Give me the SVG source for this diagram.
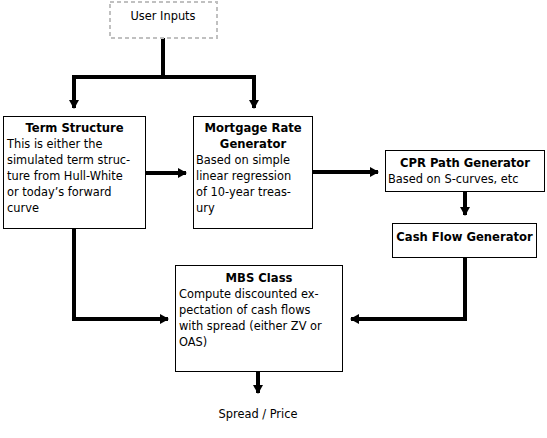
<svg xmlns="http://www.w3.org/2000/svg" width="547" height="438" viewBox="0 0 547 438">
<style>
.box{fill:#fff;stroke:#000;stroke-width:1}
.dash{fill:#fff;stroke:#c0c0c0;stroke-width:2;stroke-dasharray:4,3}
.t{font-family:"DejaVu Sans",Verdana,sans-serif;font-size:11.4px;fill:#000}
.b{font-family:"DejaVu Sans",Verdana,sans-serif;font-size:11.6px;font-weight:bold;fill:#000}
.c{text-anchor:middle}
.ln{fill:none;stroke:#000;stroke-width:4}
</style>
<defs>
<marker id="ah" markerUnits="userSpaceOnUse" markerWidth="10" markerHeight="12" refX="8" refY="5" orient="auto" viewBox="0 0 10 10">
<path d="M0,0 L9,5 L0,10 Z" fill="#000"/>
</marker>
</defs>
<g id="connectors">
<polyline class="ln" points="163,38 163,77 74,77 74,108" marker-end="url(#ah)"/>
<polyline class="ln" points="163,77 254,77 254,108" marker-end="url(#ah)"/>
<line class="ln" x1="146" y1="173" x2="186" y2="173" marker-end="url(#ah)"/>
<line class="ln" x1="313" y1="172" x2="378" y2="172" marker-end="url(#ah)"/>
<line class="ln" x1="465" y1="192" x2="465" y2="215" marker-end="url(#ah)"/>
<polyline class="ln" points="74,229 74,319 168,319" marker-end="url(#ah)"/>
<polyline class="ln" points="465,258 465,319 351,319" marker-end="url(#ah)"/>
<line class="ln" x1="258" y1="372" x2="258" y2="393" marker-end="url(#ah)"/>
</g>
<g id="user-inputs">
<rect class="dash" x="110" y="2" width="107" height="36"/>
<text class="t c" x="163" y="20">User Inputs</text>
</g>
<g id="term-structure">
<rect class="box" x="3.5" y="116.5" width="142" height="112"/>
<text class="b c" x="74.5" y="132">Term Structure</text>
<text class="t" x="7" y="148">This is either the</text>
<text class="t" x="7" y="164">simulated term struc-</text>
<text class="t" x="7" y="180">ture from Hull-White</text>
<text class="t" x="7" y="196">or today’s forward</text>
<text class="t" x="7" y="212">curve</text>
</g>
<g id="mortgage-rate-generator">
<rect class="box" x="193.5" y="116.5" width="119" height="112"/>
<text class="b c" x="253" y="132">Mortgage Rate</text>
<text class="b c" x="253" y="148">Generator</text>
<text class="t" x="196" y="164">Based on simple</text>
<text class="t" x="196" y="180">linear regression</text>
<text class="t" x="196" y="196">of 10-year treas-</text>
<text class="t" x="196" y="212">ury</text>
</g>
<g id="cpr-path-generator">
<rect class="box" x="385.5" y="150.5" width="159" height="41"/>
<text class="b c" x="465" y="167">CPR Path Generator</text>
<text class="t" x="388" y="183">Based on S-curves, etc</text>
</g>
<g id="cash-flow-generator">
<rect class="box" x="392.5" y="223.5" width="144" height="34"/>
<text class="b c" x="464.5" y="241">Cash Flow Generator</text>
</g>
<g id="mbs-class">
<rect class="box" x="175.5" y="265.5" width="167" height="106"/>
<text class="b c" x="259" y="282">MBS Class</text>
<text class="t" x="179" y="298">Compute discounted ex-</text>
<text class="t" x="179" y="314">pectation of cash flows</text>
<text class="t" x="179" y="330">with spread (either ZV or</text>
<text class="t" x="179" y="346">OAS)</text>
</g>
<g id="output">
<text class="t c" x="258" y="418">Spread / Price</text>
</g>
</svg>
